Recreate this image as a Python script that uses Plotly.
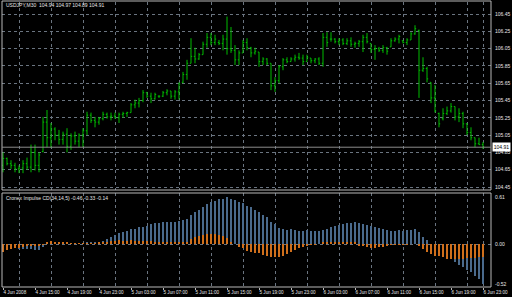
import plotly.graph_objects as go

W, H = 512, 297

time_labels = ["4 Jun 2008", "4 Jun 15:00", "4 Jun 19:00", "4 Jun 23:00", "5 Jun 03:00",
               "5 Jun 07:00", "5 Jun 11:00", "5 Jun 15:00", "5 Jun 19:00", "5 Jun 23:00",
               "6 Jun 03:00", "6 Jun 07:00", "6 Jun 11:00", "6 Jun 15:00", "6 Jun 19:00",
               "6 Jun 23:00"]
label_bars = [0, 8, 16, 24, 32, 40, 48, 56, 64, 72, 80, 88, 96, 104, 112, 120]
grid_bars = [4, 12, 20, 28, 36, 44, 52, 60, 68, 76, 84, 92, 100, 108, 116, 120]

price_ticks = [104.45, 104.65, 104.85, 105.05, 105.25, 105.45, 105.65, 105.85, 106.05, 106.25, 106.45]
cd_ticks = [0.61, 0.00, -0.52]

high = [104.85,104.79,104.76,104.73,104.70,104.76,104.79,104.94,104.94,104.85,
        105.26,105.34,105.19,105.14,105.11,105.09,105.13,105.07,105.09,105.07,
        105.13,105.32,105.31,105.26,105.26,105.32,105.31,105.31,105.31,105.31,
        105.32,105.32,105.42,105.46,105.48,105.57,105.55,105.54,105.54,105.51,
        105.56,105.58,105.56,105.57,105.66,105.78,105.92,106.17,106.06,106.00,
        106.13,106.23,106.23,106.21,106.15,106.21,106.42,106.30,106.09,106.03,
        106.15,106.17,106.07,106.06,106.01,105.95,105.94,105.88,105.72,105.86,
        105.94,105.95,105.95,105.98,106.00,105.98,105.98,105.94,105.94,105.95,
        106.23,106.24,106.24,106.17,106.17,106.17,106.17,106.18,106.13,106.15,
        106.21,106.23,106.11,106.09,106.07,106.09,106.07,106.17,106.18,106.21,
        106.15,106.17,106.24,106.32,106.27,105.95,105.84,105.66,105.63,105.31,
        105.36,105.38,105.42,105.38,105.36,105.32,105.19,105.14,105.02,105.02,
        104.97]
low = [104.62,104.70,104.66,104.62,104.61,104.61,104.65,104.62,104.64,104.62,
       104.85,104.91,104.90,104.99,104.94,104.94,104.85,104.88,104.94,104.91,
       104.91,105.05,105.19,105.14,105.17,105.22,105.24,105.22,105.24,105.19,
       105.25,105.26,105.31,105.36,105.37,105.43,105.48,105.42,105.46,105.48,
       105.49,105.51,105.47,105.46,105.46,105.65,105.69,105.88,105.88,105.92,
       105.98,106.06,106.09,106.09,106.09,106.03,105.98,106.00,105.86,105.86,
       106.00,106.03,105.95,105.98,105.84,105.86,105.86,105.57,105.55,105.65,
       105.80,105.88,105.90,105.90,105.92,105.86,105.90,105.88,105.88,105.86,
       105.84,106.07,106.13,106.11,106.09,106.09,106.09,106.07,106.06,106.07,
       106.01,106.11,106.00,105.92,106.01,106.00,105.98,106.07,106.13,106.11,
       106.11,106.09,106.15,106.21,105.48,105.78,105.66,105.42,105.31,105.14,
       105.22,105.28,105.31,105.22,105.20,105.13,105.05,104.99,104.91,104.94,
       104.89]
open_ = [104.70,104.78,104.72,104.70,104.66,104.67,104.72,104.68,104.85,104.70,
         104.86,105.20,105.02,105.12,105.05,105.00,105.06,104.92,105.04,104.98,
         105.05,105.10,105.28,105.22,105.20,105.24,105.29,105.26,105.27,105.25,
         105.29,105.30,105.31,105.40,105.42,105.45,105.54,105.50,105.47,105.50,
         105.50,105.54,105.56,105.50,105.55,105.66,105.75,105.88,105.96,105.93,
         105.98,106.10,106.18,106.12,106.12,106.11,106.16,106.05,106.03,105.92,
         106.00,106.12,106.06,106.00,106.01,105.90,105.93,105.88,105.62,105.68,
         105.84,105.92,105.90,105.93,105.95,105.94,105.90,105.94,105.91,105.93,
         105.88,106.18,106.16,106.16,106.13,106.15,106.11,106.14,106.10,106.11,
         106.13,106.18,106.11,106.04,106.05,106.03,106.06,106.07,106.14,106.16,
         106.14,106.12,106.15,106.22,106.26,105.80,105.82,105.66,105.48,105.30,
         105.24,105.30,105.33,105.38,105.26,105.30,105.18,105.08,105.02,104.95,
         104.94]
close = [104.78,104.72,104.70,104.66,104.67,104.72,104.68,104.85,104.70,104.82,
         105.20,105.02,105.12,105.05,105.00,105.06,104.92,105.04,104.98,105.05,
         105.10,105.28,105.22,105.20,105.24,105.29,105.26,105.27,105.25,105.29,
         105.30,105.31,105.40,105.42,105.45,105.54,105.50,105.47,105.52,105.50,
         105.54,105.56,105.50,105.55,105.64,105.75,105.88,105.96,105.93,105.98,
         106.10,106.18,106.12,106.16,106.11,106.16,106.05,106.03,105.92,106.00,
         106.12,106.06,106.00,106.02,105.90,105.93,105.88,105.62,105.68,105.84,
         105.92,105.90,105.93,105.95,105.94,105.90,105.95,105.91,105.93,105.88,
         106.18,106.12,106.16,106.13,106.15,106.11,106.14,106.10,106.11,106.13,
         106.18,106.13,106.04,106.05,106.03,106.06,106.02,106.14,106.16,106.19,
         106.12,106.15,106.22,106.28,105.80,105.82,105.70,105.48,105.33,105.18,
         105.30,105.33,105.38,105.26,105.30,105.18,105.08,105.02,104.95,104.94,
         104.91]

cd_blue = [-0.05,-0.05,-0.05,-0.05,-0.06,-0.06,-0.06,-0.06,-0.08,-0.08,
           -0.04,0.01,0.01,0.01,0.01,0.01,0.00,0.00,0.01,0.01,
           0.01,0.02,0.02,0.02,0.03,0.045,0.06,0.095,0.12,0.14,
           0.15,0.17,0.19,0.20,0.22,0.225,0.24,0.255,0.27,0.277,
           0.28,0.286,0.286,0.286,0.30,0.31,0.32,0.38,0.41,0.44,
           0.48,0.52,0.55,0.56,0.58,0.59,0.61,0.59,0.57,0.55,
           0.53,0.50,0.48,0.44,0.41,0.38,0.355,0.29,0.26,0.21,
           0.19,0.18,0.19,0.18,0.17,0.17,0.18,0.17,0.17,0.17,
           0.18,0.19,0.22,0.23,0.25,0.26,0.27,0.27,0.28,0.27,
           0.26,0.25,0.235,0.22,0.21,0.19,0.18,0.17,0.17,0.18,
           0.17,0.18,0.18,0.19,0.16,0.09,0.05,-0.01,-0.06,-0.10,
           -0.12,-0.155,-0.20,-0.23,-0.27,-0.30,-0.34,-0.37,-0.42,-0.46,
           -0.52]
cd_orange = [-0.10,-0.08,-0.06,-0.05,-0.05,-0.04,-0.03,-0.03,-0.02,-0.02,
             -0.01,0.03,0.04,0.03,0.03,0.03,0.02,0.01,0.01,0.005,
             0.005,0.01,0.01,0.01,0.02,0.03,0.03,0.04,0.04,0.05,
             0.04,0.04,0.05,0.04,0.04,0.04,0.04,0.035,0.03,0.03,
             0.03,0.03,0.03,0.03,0.03,0.03,0.03,0.06,0.087,0.10,
             0.117,0.125,0.13,0.125,0.12,0.10,0.074,0.03,0.0,-0.035,
             -0.056,-0.087,-0.10,-0.12,-0.12,-0.143,-0.155,-0.165,-0.173,-0.165,
             -0.155,-0.13,-0.10,-0.08,-0.056,-0.035,-0.02,-0.01,-0.005,0.0,
             0.02,0.02,0.03,0.03,0.03,0.02,0.02,0.03,0.02,-0.02,
             -0.03,-0.04,-0.05,-0.05,-0.04,-0.04,-0.03,-0.01,-0.01,-0.005,
             -0.005,-0.01,0.0,0.0,-0.02,-0.06,-0.10,-0.13,-0.15,-0.16,
             -0.17,-0.19,-0.20,-0.20,-0.19,-0.19,-0.18,-0.18,-0.18,-0.17,
             -0.17]

header = "USDJPY,M30  104.94 104.97 104.89 104.91"
sub_header = "Cronex Impulse CD(34,14,5) -0.46 -0.33 -0.14"

bars = list(range(len(close)))

GREEN = "#00bc00"
BLUE = "#4a6a8c"
ORANGE = "#cf6f1c"
GRID = "#6a7480"
TXT = "#e6e6e6"
BORDER = "#b8b8b8"
FONT = "Liberation Sans"


def px_x(p):
    return p / W


def px_y(p):
    return 1 - p / H


LEFT, RIGHT = 2, 491
MAIN_TOP, MAIN_BOT = 2, 190
SUB_TOP, SUB_BOT = 193, 287

fig = go.Figure()
fig.add_trace(go.Ohlc(
    x=bars, open=open_, high=high, low=low, close=close,
    increasing=dict(line=dict(color=GREEN, width=1)),
    decreasing=dict(line=dict(color=GREEN, width=1)),
    tickwidth=0.3, xaxis="x", yaxis="y", showlegend=False, hoverinfo="skip"))
fig.add_trace(go.Bar(x=bars, y=cd_blue, marker=dict(color=BLUE, line=dict(width=0)),
                     width=0.28, xaxis="x2", yaxis="y2", showlegend=False))
fig.add_trace(go.Bar(x=bars, y=cd_orange, marker=dict(color=ORANGE, line=dict(width=0)),
                     width=0.28, xaxis="x2", yaxis="y2", showlegend=False))

xr = [(LEFT - 3) / 4, (RIGHT - 3) / 4]
common_x = dict(range=xr, domain=[px_x(LEFT), px_x(RIGHT)], showgrid=False, zeroline=False,
                showline=False, automargin=False,
                minor=dict(tickmode="array", tickvals=grid_bars, showgrid=True,
                           gridcolor=GRID, griddash="dot", gridwidth=1, ticks=""))

fig.update_layout(
    width=W, height=H, margin=dict(l=0, r=0, t=0, b=0, autoexpand=False),
    paper_bgcolor="black", plot_bgcolor="black",
    barmode="overlay", bargap=0,
    font=dict(family=FONT, color=TXT, size=5),
    xaxis=dict(**common_x, anchor="y", showticklabels=False, ticks="",
               rangeslider=dict(visible=False)),
    xaxis2=dict(**common_x, anchor="y2", matches="x", tickmode="array",
                tickvals=label_bars, ticktext=time_labels, ticks="outside", ticklen=2,
                tickcolor=BORDER, ticklabelposition="outside right", tickangle=0,
                tickfont=dict(size=4.6, color=TXT, family=FONT)),
    yaxis=dict(domain=[px_y(MAIN_BOT), px_y(MAIN_TOP)],
               range=[106.45 - (MAIN_BOT - 14) * 0.011561, 106.45 + (14 - MAIN_TOP) * 0.011561],
               side="right", anchor="x", tickmode="array", tickvals=price_ticks,
               ticktext=[f"{v:.2f}" for v in price_ticks], ticks="", ticklabelstandoff=3,
               showgrid=True, gridcolor=GRID, griddash="dot", gridwidth=1, zeroline=False,
               automargin=False,
               tickfont=dict(size=5, color=TXT, family=FONT)),
    yaxis2=dict(domain=[px_y(SUB_BOT), px_y(SUB_TOP)],
                range=[(244 - SUB_BOT) / 77, (244 - SUB_TOP) / 77],
                side="right", anchor="x2", tickmode="array", tickvals=cd_ticks,
                ticktext=[f"{v:.2f}" for v in cd_ticks], ticks="", ticklabelstandoff=3,
                showgrid=False, zeroline=False, automargin=False,
                minor=dict(tickmode="array", tickvals=[0.0], showgrid=True,
                           gridcolor=GRID, griddash="dot", gridwidth=1, ticks=""),
                tickfont=dict(size=5, color=TXT, family=FONT)),
)

shapes = [
    dict(type="rect", xref="paper", yref="paper", x0=px_x(LEFT), x1=px_x(RIGHT),
         y0=px_y(MAIN_BOT), y1=px_y(MAIN_TOP - 1), line=dict(color=BORDER, width=1)),
    dict(type="rect", xref="paper", yref="paper", x0=px_x(LEFT), x1=px_x(RIGHT),
         y0=px_y(SUB_BOT), y1=px_y(SUB_TOP), line=dict(color=BORDER, width=1)),
    dict(type="line", xref="paper", yref="y", x0=px_x(LEFT), x1=px_x(RIGHT),
         y0=close[-1], y1=close[-1], line=dict(color="#8c8c8c", width=1)),
]
fig.update_layout(shapes=shapes)

fig.add_annotation(x=px_x(4), y=px_y(5), xref="paper", yref="paper", xanchor="left",
                   yanchor="middle", text=header, showarrow=False,
                   font=dict(size=5, color=TXT, family=FONT))
fig.add_annotation(x=px_x(4), y=px_y(198), xref="paper", yref="paper", xanchor="left",
                   yanchor="middle", text=sub_header, showarrow=False,
                   font=dict(size=5, color=TXT, family=FONT))
fig.add_annotation(x=px_x(RIGHT + 1), y=close[-1], xref="paper", yref="y", xanchor="left",
                   yanchor="middle", text=f"{close[-1]:.2f}", showarrow=False,
                   bgcolor="white", borderpad=0.8,
                   font=dict(size=5, color="black", family=FONT))

fig.write_html("out.html")
